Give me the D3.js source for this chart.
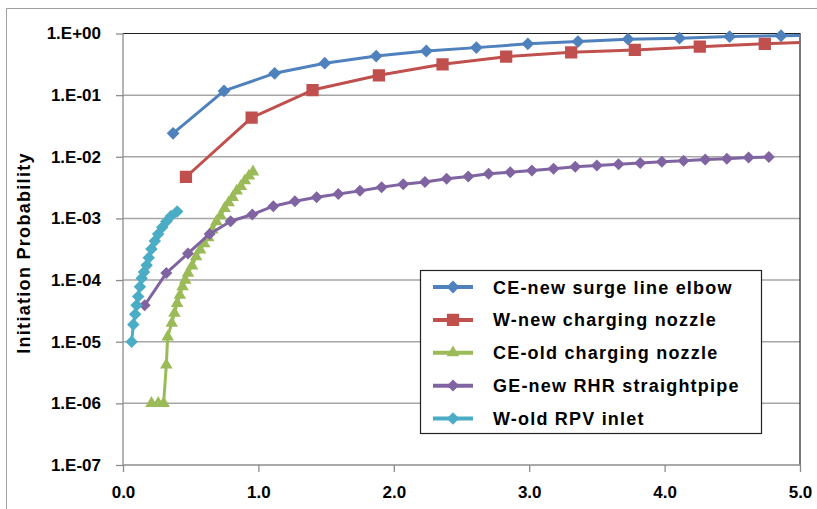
<!DOCTYPE html>
<html>
<head>
<meta charset="utf-8">
<script src="https://cdn.jsdelivr.net/npm/d3@7"></script>
<style>
  body { margin: 0; background: #fff; }
  text { font-family: "Liberation Sans", Arial, sans-serif; font-weight: bold; fill: #000; }
</style>
</head>
<body>
<div class="svg__chart"></div>
<script>
// Series
const seriesNames = ['CE-new surge line elbow', 'W-new charging nozzle', 'CE-old charging nozzle', 'GE-new RHR straightpipe', 'W-old RPV inlet']

const ceNewX = [0.37, 0.746, 1.12, 1.49, 1.87, 2.24, 2.61, 2.99, 3.36, 3.73, 4.11, 4.48, 4.86, 5.23]
const ceNewY = [0.024, 0.117, 0.226, 0.33, 0.43, 0.52, 0.59, 0.68, 0.74, 0.81, 0.84, 0.89, 0.92, 0.94]

const wNewX = [0.465, 0.95, 1.40, 1.89, 2.36, 2.83, 3.31, 3.78, 4.26, 4.74, 5.21]
const wNewY = [0.0047, 0.043, 0.121, 0.21, 0.316, 0.42, 0.495, 0.54, 0.61, 0.68, 0.74]

const ceOldX = [0.21, 0.26, 0.30, 0.32, 0.33, 0.36, 0.38, 0.40, 0.42, 0.44, 0.46, 0.48, 0.51, 0.54, 0.57, 0.60, 0.63, 0.66, 0.69, 0.72, 0.75, 0.78, 0.81, 0.84, 0.87, 0.90, 0.93, 0.96]
const ceOldY = [1e-6, 1e-6, 1e-6, 4.2e-6, 1.2e-5, 2.0e-5, 2.9e-5, 4.2e-5, 5.7e-5, 7.8e-5, 1.0e-4, 1.3e-4, 1.7e-4, 2.4e-4, 3.1e-4, 3.9e-4, 4.9e-4, 6.5e-4, 8.9e-4, 1.1e-3, 1.45e-3, 1.8e-3, 2.2e-3, 2.8e-3, 3.3e-3, 4.1e-3, 4.9e-3, 5.7e-3]

const geNewX = [0.16, 0.32, 0.48, 0.64, 0.795, 0.955, 1.11, 1.27, 1.43, 1.59, 1.75, 1.91, 2.07, 2.23, 2.39, 2.55, 2.70, 2.86, 3.02, 3.18, 3.34, 3.50, 3.66, 3.82, 3.98, 4.14, 4.30, 4.46, 4.62, 4.77]
const geNewY = [3.9e-5, 1.3e-4, 2.7e-4, 5.6e-4, 9.0e-4, 1.16e-3, 1.58e-3, 1.9e-3, 2.2e-3, 2.5e-3, 2.8e-3, 3.2e-3, 3.6e-3, 3.9e-3, 4.4e-3, 4.8e-3, 5.3e-3, 5.6e-3, 6.0e-3, 6.4e-3, 6.9e-3, 7.2e-3, 7.6e-3, 7.9e-3, 8.3e-3, 8.6e-3, 9.0e-3, 9.3e-3, 9.7e-3, 9.9e-3]

const wOldX = [0.064, 0.076, 0.09, 0.10, 0.112, 0.125, 0.138, 0.155, 0.175, 0.19, 0.21, 0.235, 0.26, 0.29, 0.32, 0.355, 0.40]
const wOldY = [1.0e-5, 1.9e-5, 2.8e-5, 3.9e-5, 5.4e-5, 7.8e-5, 1.07e-4, 1.35e-4, 1.74e-4, 2.3e-4, 3.2e-4, 4.3e-4, 5.6e-4, 7.2e-4, 8.9e-4, 1.1e-3, 1.29e-3]

const xTicks = [0, 1, 2, 3, 4, 5]
const yTicks = [1, 1e-1, 1e-2, 1e-3, 1e-4, 1e-5, 1e-6, 1e-7]
const yTickLabels = ['1.E+00', '1.E-01', '1.E-02', '1.E-03', '1.E-04', '1.E-05', '1.E-06', '1.E-07']

const colors = ['#4f81bd', '#c0504d', '#9bbb59', '#8064a2', '#4bacc6']
const markers = [
    { type: d3.symbolSquare, size: 82, rotate: 45 },
    { type: d3.symbolSquare, size: 150, rotate: 0 },
    { type: d3.symbolTriangle, size: 68, rotate: 0 },
    { type: d3.symbolSquare, size: 72, rotate: 45 },
    { type: d3.symbolSquare, size: 78, rotate: 45 }
]

const series = [
    d3.zip(ceNewX, ceNewY),
    d3.zip(wNewX, wNewY),
    d3.zip(ceOldX, ceOldY),
    d3.zip(geNewX, geNewY),
    d3.zip(wOldX, wOldY)
]

// Container
const viewportWidth = 817,
    viewportHeight = 509
const plot = { left: 123, right: 800, top: 33.5, bottom: 465 }

const svg = d3.select('.svg__chart')
    .append('svg')
    .attr('width', viewportWidth)
    .attr('height', viewportHeight)

// outer chart border (only top and left edges fall inside the picture)
svg.append('path')
    .attr('d', `M6.5,${viewportHeight}V8.5H${viewportWidth}`)
    .attr('fill', 'none')
    .attr('stroke', '#a0a0a0')

const x = d3.scaleLinear().domain([0, 5]).range([plot.left, plot.right])
const y = d3.scaleLog().domain([1e-7, 1]).range([plot.bottom, plot.top])

// gridlines
svg.append('g')
    .selectAll('line')
    .data(yTicks.slice(1, -1))
    .enter()
    .append('line')
    .attr('x1', plot.left).attr('x2', plot.right)
    .attr('y1', d => y(d)).attr('y2', d => y(d))
    .attr('stroke', '#a6a6a6')
    .attr('stroke-width', 1.5)

// plot frame, top and right
svg.append('path')
    .attr('d', `M${plot.left},${plot.top}H${plot.right}V${plot.bottom}`)
    .attr('fill', 'none')
    .attr('stroke', '#222')
    .attr('stroke-width', 1.2)

// axes
const yAxis = svg.append('g')
    .attr('transform', `translate(${plot.left},0)`)
    .call(d3.axisLeft(y).tickValues(yTicks).tickSize(7).tickPadding(15)
        .tickFormat((d, i) => yTickLabels[i]))

const xAxis = svg.append('g')
    .attr('transform', `translate(0,${plot.bottom})`)
    .call(d3.axisBottom(x).tickValues(xTicks).tickSize(7).tickPadding(14)
        .tickFormat(d3.format('.1f')))

svg.selectAll('.domain, .tick line').attr('stroke', '#8c8c8c').attr('stroke-width', 1.3)
yAxis.select('.domain').attr('d', `M0,${plot.top}V${plot.bottom}`)
xAxis.select('.domain').attr('d', `M${plot.left},0H${plot.right}`)
svg.selectAll('.tick text')
    .style('font-size', '17px')
    .style('font-family', '"Liberation Sans", Arial, sans-serif')
    .style('font-weight', 'bold')
    .attr('fill', '#000')

// y title
svg.append('text')
    .attr('transform', 'translate(30,253) rotate(-90)')
    .attr('text-anchor', 'middle')
    .style('font-size', '18px')
    .style('letter-spacing', '1.3px')
    .text('Initiation Probability')

// series
svg.append('clipPath')
    .attr('id', 'plotClip')
    .append('rect')
    .attr('x', plot.left).attr('y', plot.top - 10)
    .attr('width', plot.right - plot.left).attr('height', plot.bottom - plot.top + 10)

const line = d3.line()
    .x(d => x(d[0]))
    .y(d => y(d[1]))

const symbolPath = m => d3.symbol(m.type, m.size)()

const seriesG = svg.append('g').attr('clip-path', 'url(#plotClip)')

series.forEach((pts, i) => {
    const g = seriesG.append('g')
    g.append('path')
        .attr('d', line(pts))
        .attr('fill', 'none')
        .attr('stroke', colors[i])
        .attr('stroke-width', 3)
        .attr('stroke-linejoin', 'round')
    g.selectAll('path.marker')
        .data(pts)
        .enter()
        .append('path')
        .attr('class', 'marker')
        .attr('d', symbolPath(markers[i]))
        .attr('transform', d => `translate(${x(d[0])},${y(d[1])}) rotate(${markers[i].rotate})`)
        .attr('fill', colors[i])
})

// legend
const legend = svg.append('g')
legend.append('rect')
    .attr('x', 420.5).attr('y', 270.5)
    .attr('width', 341).attr('height', 163)
    .attr('fill', '#fff')
    .attr('stroke', '#222')
    .attr('stroke-width', 1.2)

const rowY = d3.scaleLinear().domain([0, 4]).range([287, 418.5])

const item = legend.selectAll('g.item')
    .data(seriesNames)
    .enter()
    .append('g')
    .attr('class', 'item')
    .attr('transform', (d, i) => `translate(0,${rowY(i)})`)

item.append('line')
    .attr('x1', 433).attr('x2', 473)
    .attr('stroke', (d, i) => colors[i])
    .attr('stroke-width', 4)

item.append('path')
    .attr('d', (d, i) => symbolPath(markers[i]))
    .attr('transform', (d, i) => `translate(453,0) rotate(${markers[i].rotate})`)
    .attr('fill', (d, i) => colors[i])

item.append('text')
    .attr('x', 493)
    .attr('y', 6.5)
    .style('font-size', '18px')
    .style('letter-spacing', '1.2px')
    .text(d => d)
</script>
</body>
</html>
